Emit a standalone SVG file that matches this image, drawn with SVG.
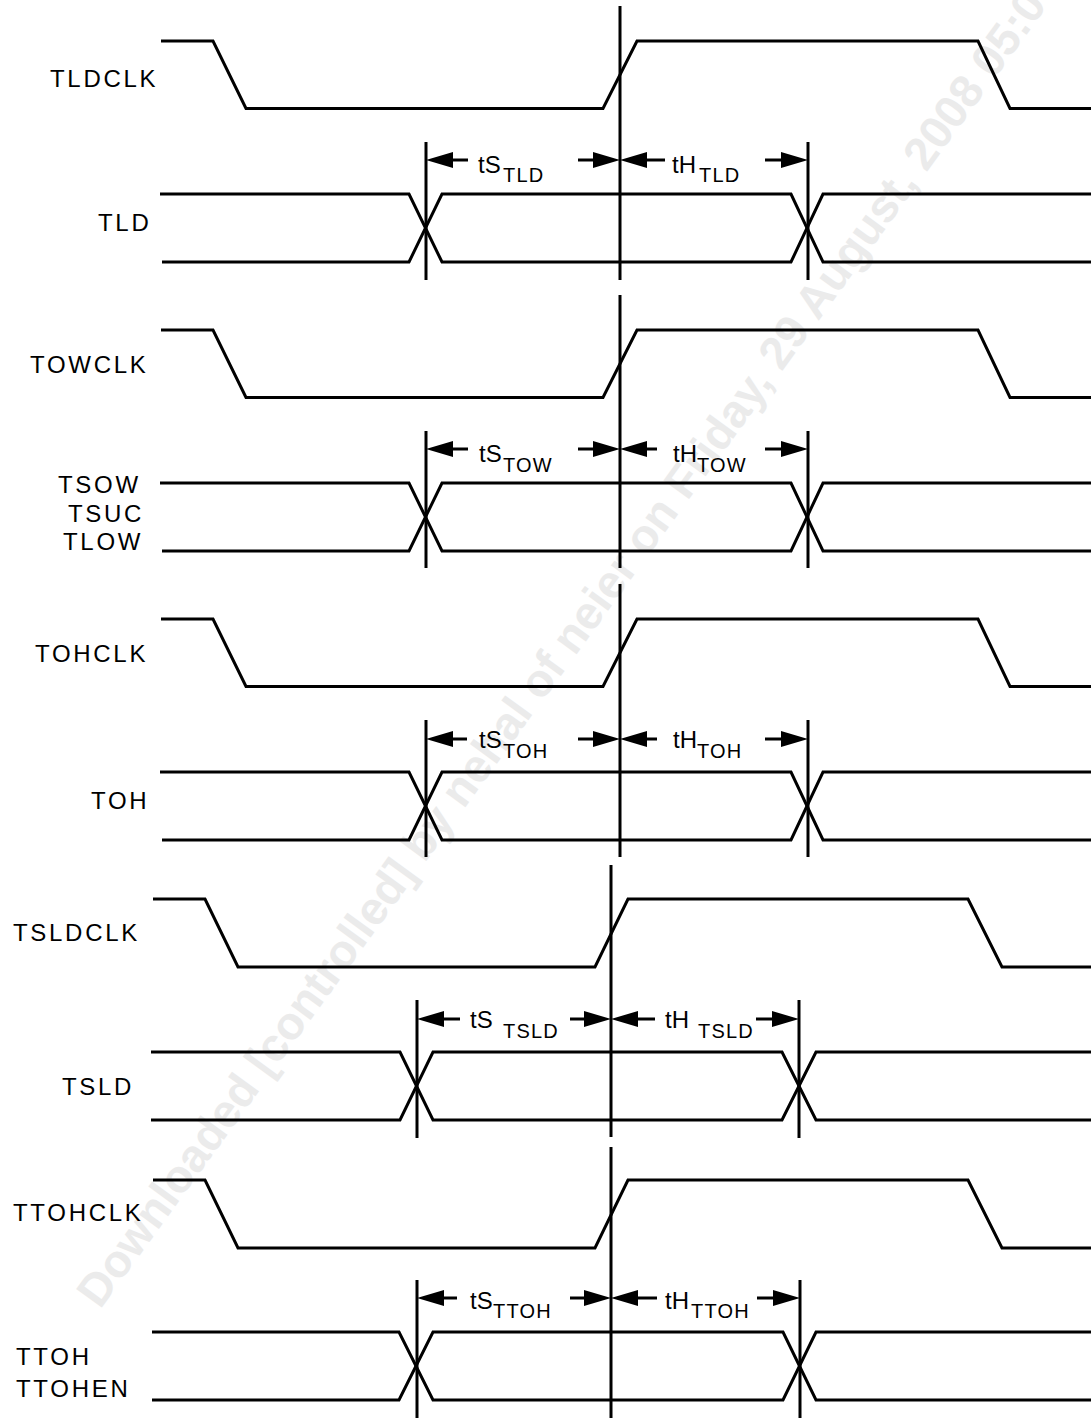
<svg xmlns="http://www.w3.org/2000/svg" width="1091" height="1418" viewBox="0 0 1091 1418">
<style>
.w{fill:none;stroke:#000;stroke-width:3;stroke-linejoin:miter}
.v{stroke:#000;stroke-width:3}
.a{fill:#000;stroke:none}
.lbl{font-family:"Liberation Sans",Arial,sans-serif;font-size:24px;letter-spacing:2.7px;fill:#000}
.m{font-family:"Liberation Sans",Arial,sans-serif;font-size:24px;fill:#000}
.s{font-family:"Liberation Sans",Arial,sans-serif;font-size:20px;letter-spacing:1.2px;fill:#000}
.wm{font-family:"Liberation Sans",Arial,sans-serif;font-size:46px;font-weight:bold;fill:#ebebeb}
</style>
<defs>
<polygon id="al" points="0,0 27,-8 27,8"/>
<polygon id="ar" points="0,0 -27,-8 -27,8"/>
</defs>
<rect width="1091" height="1418" fill="#fff"/>
<text class="wm" transform="translate(100,1310) rotate(-54)">Downloaded [controlled] by nehal of neier on Friday, 29 August, 2008 05:07</text>

<g id="TLDCLK">
<text class="lbl" x="50" y="87">TLDCLK</text>
<path class="w" d="M161,41 H213 L246,108.5 H603 L637,41 H978 L1010,108.5 H1091"/>
</g>
<g id="TLD">
<text class="lbl" x="98" y="231">TLD</text>
<path class="w" d="M160,194 H409 L442,262 H791 L823,194 H1091"/>
<path class="w" d="M162,262 H409 L442,194 H791 L823,262 H1091"/>
</g>
<g id="TOWCLK">
<text class="lbl" x="30" y="373">TOWCLK</text>
<path class="w" d="M161,330 H213 L246,397.5 H603 L637,330 H978 L1010,397.5 H1091"/>
</g>
<g id="TSOW">
<text class="lbl" x="58" y="493">TSOW</text>
<text class="lbl" x="68" y="522">TSUC</text>
<text class="lbl" x="63" y="550">TLOW</text>
<path class="w" d="M160,483 H409 L442,551 H791 L823,483 H1091"/>
<path class="w" d="M162,551 H409 L442,483 H791 L823,551 H1091"/>
</g>
<g id="TOHCLK">
<text class="lbl" x="35" y="662">TOHCLK</text>
<path class="w" d="M161,619 H213 L246,686.5 H603 L637,619 H978 L1010,686.5 H1091"/>
</g>
<g id="TOH">
<text class="lbl" x="91" y="809">TOH</text>
<path class="w" d="M160,772 H409 L442,840 H791 L823,772 H1091"/>
<path class="w" d="M162,840 H409 L442,772 H791 L823,840 H1091"/>
</g>
<g id="TSLDCLK">
<text class="lbl" x="13" y="941">TSLDCLK</text>
<path class="w" d="M153,899 H205 L238,967 H595 L628,899 H968 L1002,967 H1091"/>
</g>
<g id="TSLD">
<text class="lbl" x="62" y="1095">TSLD</text>
<path class="w" d="M151,1052 H400 L433,1120 H782 L816,1052 H1091"/>
<path class="w" d="M151,1120 H400 L433,1052 H782 L816,1120 H1091"/>
</g>
<g id="TTOHCLK">
<text class="lbl" x="13" y="1221">TTOHCLK</text>
<path class="w" d="M153,1180 H205 L238,1248 H595 L628,1180 H968 L1002,1248 H1091"/>
</g>
<g id="TTOH">
<text class="lbl" x="16" y="1365">TTOH</text>
<text class="lbl" x="16" y="1397">TTOHEN</text>
<path class="w" d="M152,1332 H399 L433,1400 H783 L816,1332 H1091"/>
<path class="w" d="M152,1400 H399 L433,1332 H783 L816,1400 H1091"/>
</g>

<g id="connectors">
<line class="v" x1="620" y1="6" x2="620" y2="280"/>
<line class="v" x1="426" y1="142" x2="426" y2="280"/>
<line class="v" x1="808" y1="142" x2="808" y2="280"/>
<use href="#al" x="426" y="160"/><line class="v" x1="450" y1="160" x2="468" y2="160"/>
<use href="#ar" x="620" y="160"/><line class="v" x1="578" y1="160" x2="596" y2="160"/>
<use href="#al" x="620" y="160"/><line class="v" x1="644" y1="160" x2="665" y2="160"/>
<use href="#ar" x="808" y="160"/><line class="v" x1="765" y1="160" x2="784" y2="160"/>
<line class="v" x1="620" y1="295" x2="620" y2="568"/>
<line class="v" x1="426" y1="431" x2="426" y2="568"/>
<line class="v" x1="808" y1="431" x2="808" y2="568"/>
<use href="#al" x="426" y="449"/><line class="v" x1="450" y1="449" x2="468" y2="449"/>
<use href="#ar" x="620" y="449"/><line class="v" x1="578" y1="449" x2="596" y2="449"/>
<use href="#al" x="620" y="449"/><line class="v" x1="644" y1="449" x2="657" y2="449"/>
<use href="#ar" x="808" y="449"/><line class="v" x1="765" y1="449" x2="784" y2="449"/>
<line class="v" x1="620" y1="584" x2="620" y2="857"/>
<line class="v" x1="426" y1="720" x2="426" y2="857"/>
<line class="v" x1="808" y1="720" x2="808" y2="857"/>
<use href="#al" x="426" y="739"/><line class="v" x1="450" y1="739" x2="467" y2="739"/>
<use href="#ar" x="620" y="739"/><line class="v" x1="578" y1="739" x2="596" y2="739"/>
<use href="#al" x="620" y="739"/><line class="v" x1="644" y1="739" x2="657" y2="739"/>
<use href="#ar" x="808" y="739"/><line class="v" x1="765" y1="739" x2="784" y2="739"/>
<line class="v" x1="611" y1="865" x2="611" y2="1137"/>
<line class="v" x1="417" y1="1000" x2="417" y2="1138"/>
<line class="v" x1="799" y1="1000" x2="799" y2="1138"/>
<use href="#al" x="417" y="1019"/><line class="v" x1="441" y1="1019" x2="460" y2="1019"/>
<use href="#ar" x="611" y="1019"/><line class="v" x1="570" y1="1019" x2="587" y2="1019"/>
<use href="#al" x="611" y="1019"/><line class="v" x1="635" y1="1019" x2="655" y2="1019"/>
<use href="#ar" x="799" y="1019"/><line class="v" x1="756" y1="1019" x2="775" y2="1019"/>
<line class="v" x1="611" y1="1147" x2="611" y2="1418"/>
<line class="v" x1="417" y1="1280" x2="417" y2="1418"/>
<line class="v" x1="800" y1="1280" x2="800" y2="1418"/>
<use href="#al" x="417" y="1298"/><line class="v" x1="441" y1="1298" x2="457" y2="1298"/>
<use href="#ar" x="611" y="1298"/><line class="v" x1="570" y1="1298" x2="587" y2="1298"/>
<use href="#al" x="611" y="1298"/><line class="v" x1="635" y1="1298" x2="657" y2="1298"/>
<use href="#ar" x="800" y="1298"/><line class="v" x1="757" y1="1298" x2="776" y2="1298"/>

<text class="m" x="478" y="173">tS</text><text class="s" x="503" y="182">TLD</text>
<text class="m" x="672" y="173">tH</text><text class="s" x="699" y="182">TLD</text>
<text class="m" x="479" y="462">tS</text><text class="s" x="503" y="472">TOW</text>
<text class="m" x="673" y="462">tH</text><text class="s" x="697" y="472">TOW</text>
<text class="m" x="479" y="748">tS</text><text class="s" x="503" y="758">TOH</text>
<text class="m" x="673" y="748">tH</text><text class="s" x="697" y="758">TOH</text>
<text class="m" x="470" y="1028">tS</text><text class="s" x="503" y="1038">TSLD</text>
<text class="m" x="665" y="1028">tH</text><text class="s" x="698" y="1038">TSLD</text>
<text class="m" x="470" y="1309">tS</text><text class="s" x="493" y="1318">TTOH</text>
<text class="m" x="665" y="1309">tH</text><text class="s" x="691" y="1318">TTOH</text>
</g>
</svg>
